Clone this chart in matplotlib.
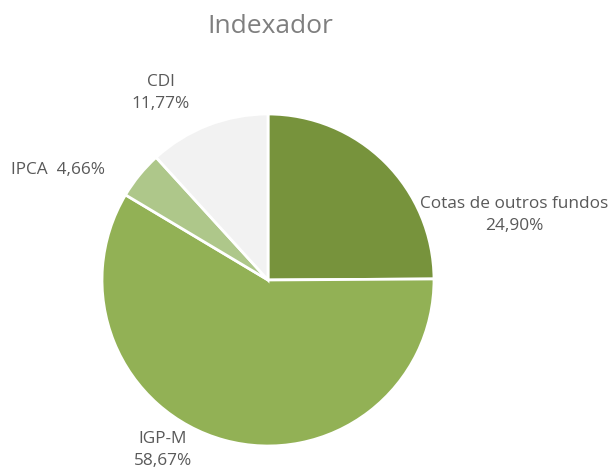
import matplotlib.pyplot as plt

# dados do grafico "Indexador"
categorias = ["Cotas de outros fundos", "IGP-M", "IPCA", "CDI"]
valores = [24.90, 58.67, 4.66, 11.77]
cores = ["#77933C", "#92B155", "#AEC78A", "#F2F2F2"]

plt.rcParams['font.family'] = ['Open Sans', 'DejaVu Sans']

fig = plt.figure(figsize=(6.12, 4.74), dpi=100)
ax = fig.add_axes([0, 0, 1, 1])

ax.pie(valores, colors=cores, startangle=90, counterclock=False,
       center=(268, 194), radius=166, frame=True,
       wedgeprops=dict(edgecolor='white', linewidth=2))
ax.set_xlim(0, 612)
ax.set_ylim(0, 474)
ax.set_aspect('equal')
ax.axis('off')

def fmt(v):
    return ("%.2f%%" % v).replace(".", ",")

cor_txt = "#595959"
fs = 12.4
ls = 1.45
ax.text(514, 259, categorias[0] + "\n" + fmt(valores[0]), ha='center', va='center',
        fontsize=fs, color=cor_txt, linespacing=ls)
ax.text(163, 24, categorias[1] + "\n" + fmt(valores[1]), ha='center', va='center',
        fontsize=fs, color=cor_txt, linespacing=ls)
ax.text(58, 304, categorias[2] + "  " + fmt(valores[2]), ha='center', va='center',
        fontsize=fs, color=cor_txt)
ax.text(161, 381, categorias[3] + "\n" + fmt(valores[3]), ha='center', va='center',
        fontsize=fs, color=cor_txt, linespacing=ls)

ax.text(270, 448, "Indexador", ha='center', va='center', fontsize=19, color="#7F7F7F")

fig.savefig("out.png", dpi=100)
